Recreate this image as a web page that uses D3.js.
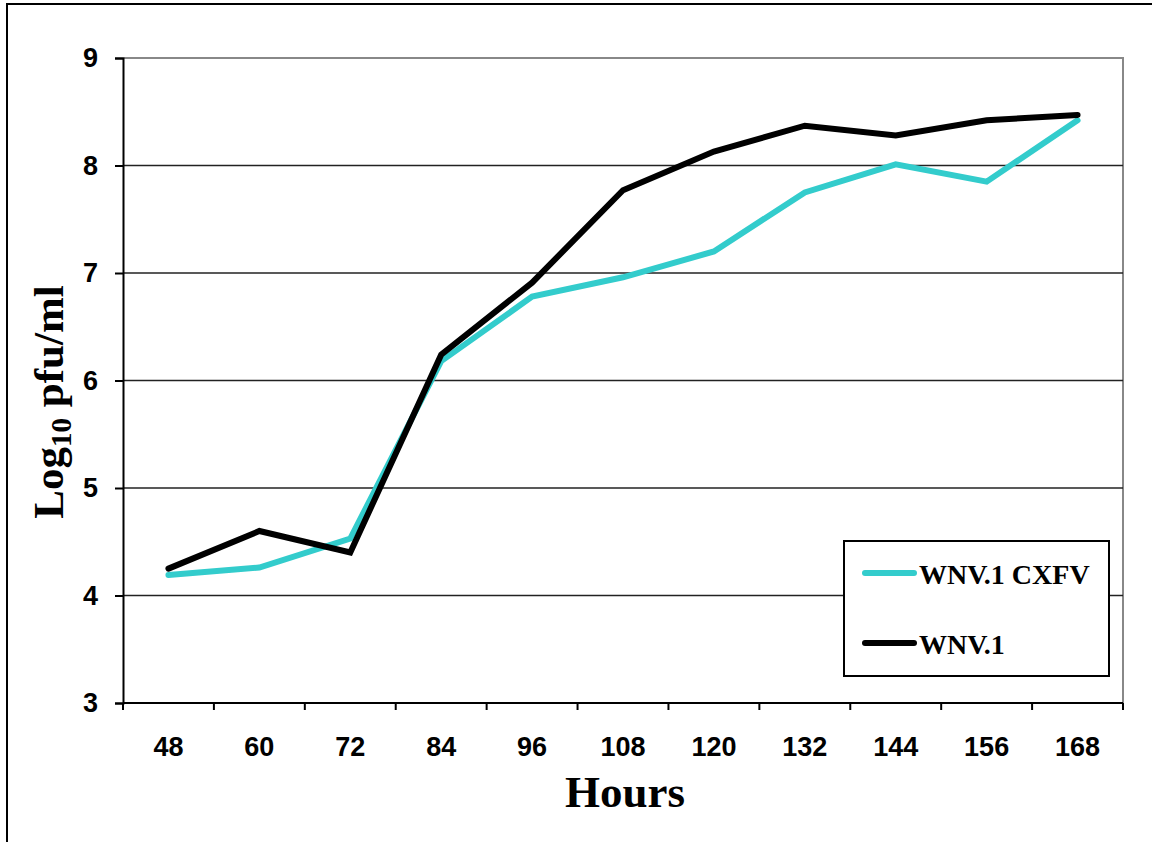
<!DOCTYPE html>
<html>
<head>
<meta charset="utf-8">
<script src="https://cdn.jsdelivr.net/npm/d3@7"></script>
<style>
  html, body { margin: 0; padding: 0; background: #fff; }
  svg { display: block; }
</style>
</head>
<body>
<svg id="chart" width="1152" height="842"></svg>
<script>
const hours = ["48", "60", "72", "84", "96", "108", "120", "132", "144", "156", "168"];
const cxfv = [4.19, 4.26, 4.53, 6.18, 6.78, 6.96, 7.20, 7.75, 8.01, 7.85, 8.42];
const wnv1 = [4.25, 4.60, 4.40, 6.24, 6.91, 7.77, 8.13, 8.37, 8.28, 8.42, 8.47];
const yTicks = [3, 4, 5, 6, 7, 8, 9];
const seriesNames = ["WNV.1 CXFV", "WNV.1"];
const seriesColors = ["#33CCCC", "#000000"];

const svg = d3.select("#chart");
const m = { left: 123, top: 58, right: 1123, bottom: 703 };

// outer frame
svg.append("rect")
  .attr("x", 7).attr("y", 4).attr("width", 1160).attr("height", 860)
  .attr("fill", "none").attr("stroke", "#000").attr("stroke-width", 2);

const x = d3.scaleBand().domain(hours).range([m.left, m.right]).paddingInner(0).paddingOuter(0);
const y = d3.scaleLinear().domain([3, 9]).range([m.bottom, m.top]);

// plot-area frame (top/right gray)
svg.append("path")
  .attr("d", `M${m.left},${m.top}H${m.right}V${m.bottom}`)
  .attr("fill", "none").attr("stroke", "#888").attr("stroke-width", 2);

// gridlines
svg.append("g").selectAll("line")
  .data(yTicks.filter(t => t > 3 && t < 9))
  .join("line")
  .attr("x1", m.left).attr("x2", m.right)
  .attr("y1", d => y(d)).attr("y2", d => y(d))
  .attr("stroke", "#222").attr("stroke-width", 1.6);

// Y axis
const yAxis = svg.append("g")
  .attr("transform", `translate(${m.left},0)`)
  .call(d3.axisLeft(y).tickValues(yTicks).tickSize(8).tickPadding(17).tickFormat(d3.format("d")));
yAxis.select(".domain").attr("stroke", "#000").attr("stroke-width", 2);
yAxis.selectAll(".tick line").attr("stroke", "#000").attr("stroke-width", 2);
yAxis.selectAll("text")
  .attr("font-family", "'Liberation Sans', Arial, sans-serif")
  .attr("font-weight", "bold").attr("font-size", 27).attr("fill", "#000");

// X axis: ticks between categories
const xAxisG = svg.append("g").attr("transform", `translate(0,${m.bottom})`);
xAxisG.append("line")
  .attr("x1", m.left).attr("x2", m.right).attr("y1", 0).attr("y2", 0)
  .attr("stroke", "#000").attr("stroke-width", 2);
const boundaries = hours.map(h => x(h)).concat([x(hours[hours.length - 1]) + x.bandwidth()]);
xAxisG.selectAll("line.tk").data(boundaries).join("line")
  .attr("class", "tk")
  .attr("x1", d => d).attr("x2", d => d).attr("y1", 0).attr("y2", 7)
  .attr("stroke", "#000").attr("stroke-width", 2);
xAxisG.selectAll("text").data(hours).join("text")
  .attr("x", d => x(d) + x.bandwidth() / 2)
  .attr("y", 53)
  .attr("text-anchor", "middle")
  .attr("font-family", "'Liberation Sans', Arial, sans-serif")
  .attr("font-weight", "bold").attr("font-size", 27).attr("fill", "#000")
  .text(d => d);

// lines
const line = d3.line()
  .x((d, i) => x(hours[i]) + x.bandwidth() / 2)
  .y(d => y(d));
[cxfv, wnv1].forEach((s, i) => {
  svg.append("path")
    .datum(s)
    .attr("d", line)
    .attr("fill", "none")
    .attr("stroke", seriesColors[i])
    .attr("stroke-width", 6)
    .attr("stroke-linejoin", "miter")
    .attr("stroke-linecap", "round");
});

// axis titles
svg.append("text")
  .attr("x", 625).attr("y", 807)
  .attr("text-anchor", "middle")
  .attr("font-family", "'Liberation Serif', 'Times New Roman', serif")
  .attr("font-weight", "bold").attr("font-size", 45).attr("fill", "#000")
  .text("Hours");

const yt = svg.append("text")
  .attr("transform", "translate(63,402) rotate(-90)")
  .attr("text-anchor", "middle")
  .attr("font-family", "'Liberation Serif', 'Times New Roman', serif")
  .attr("font-weight", "bold").attr("font-size", 43).attr("fill", "#000");
yt.append("tspan").text("Log");
yt.append("tspan").attr("font-size", 29).attr("dy", 8).text("10");
yt.append("tspan").attr("dy", -8).text(" pfu/ml");

// legend
const lg = svg.append("g");
lg.append("rect")
  .attr("x", 844).attr("y", 541).attr("width", 265).attr("height", 135)
  .attr("fill", "#fff").attr("stroke", "#000").attr("stroke-width", 2);
const legendY = [573, 643];
seriesNames.forEach((n, i) => {
  lg.append("line")
    .attr("x1", 865).attr("x2", 914)
    .attr("y1", legendY[i]).attr("y2", legendY[i])
    .attr("stroke", seriesColors[i]).attr("stroke-width", 6).attr("stroke-linecap", "round");
  lg.append("text")
    .attr("x", 919).attr("y", legendY[i] + 11)
    .attr("font-family", "'Liberation Serif', 'Times New Roman', serif")
    .attr("font-weight", "bold").attr("font-size", 28).attr("fill", "#000")
    .text(n);
});
</script>
</body>
</html>
